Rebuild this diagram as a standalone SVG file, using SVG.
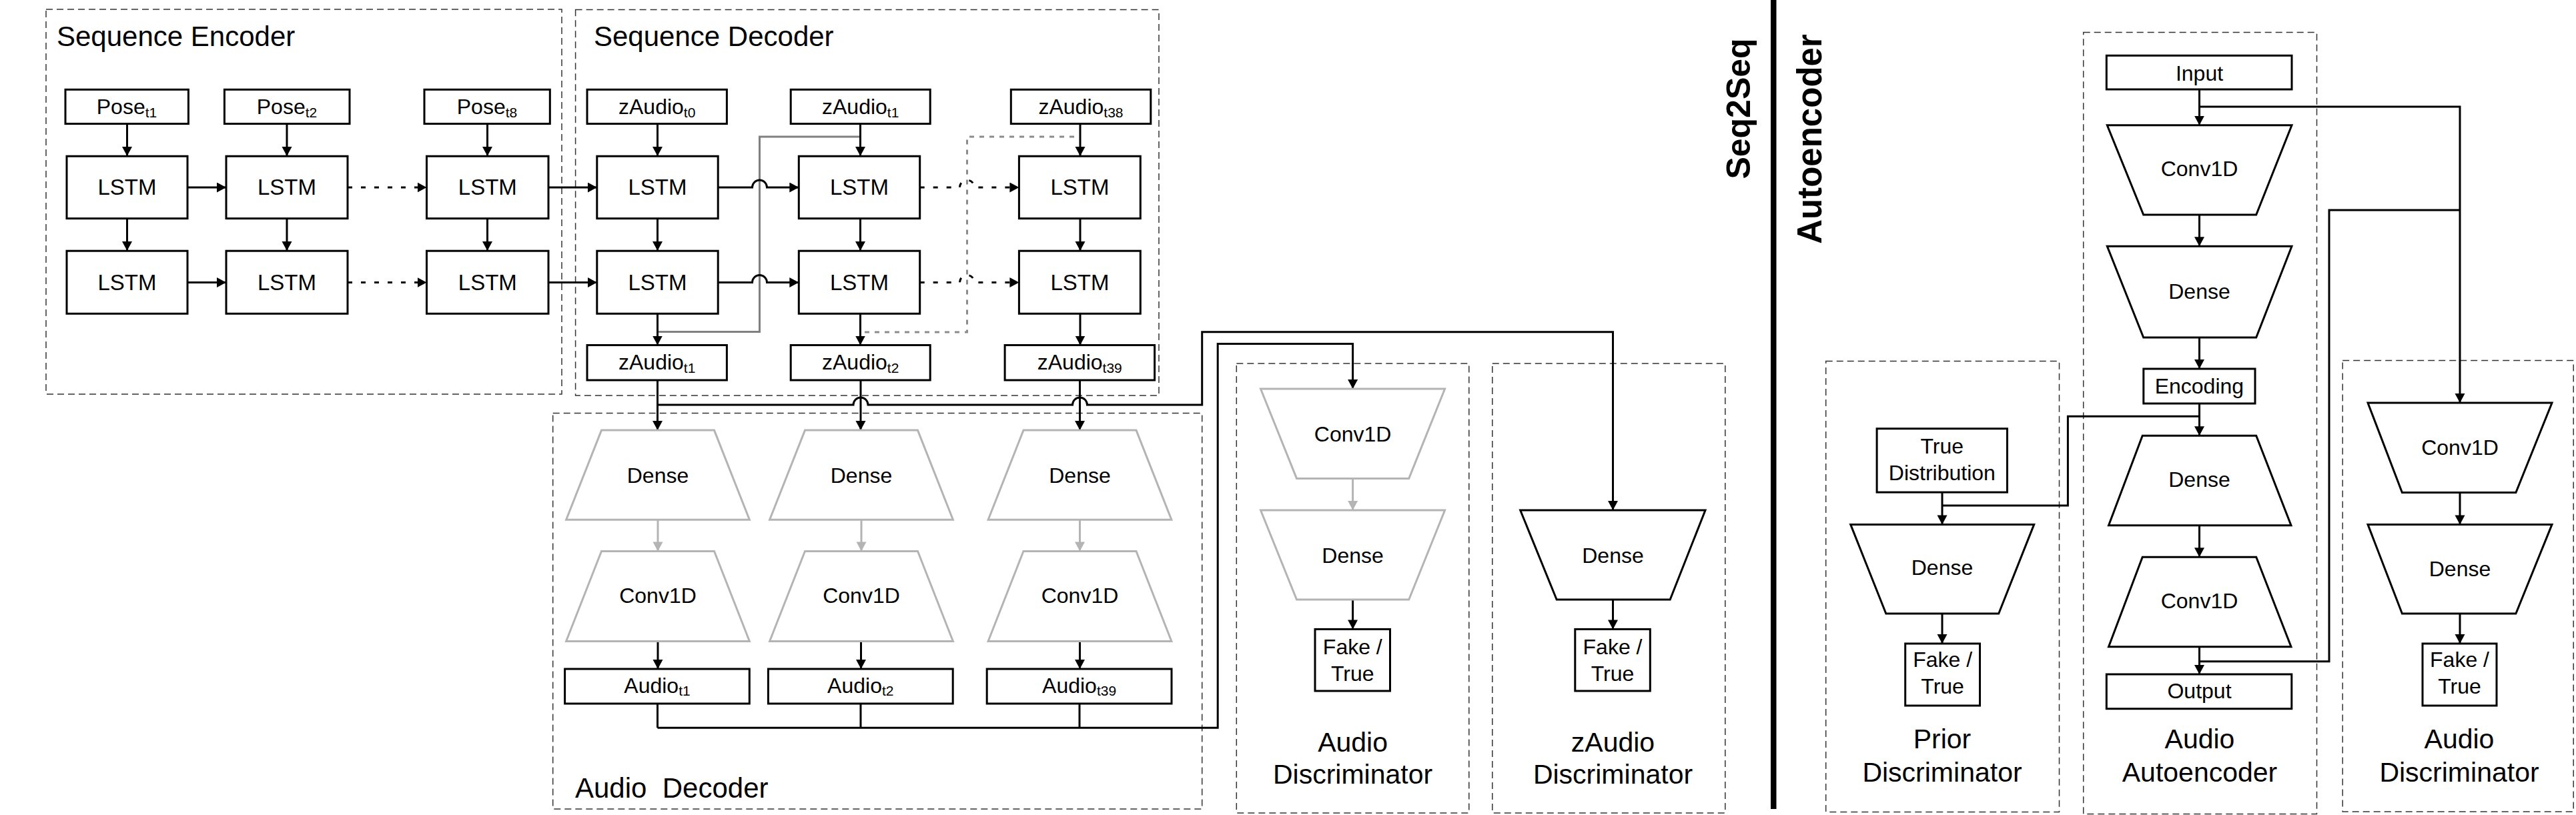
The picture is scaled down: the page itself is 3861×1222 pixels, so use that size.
<svg xmlns="http://www.w3.org/2000/svg" width="3861" height="1222" viewBox="0 0 3861 1222">
<defs>
<style>
.n{fill:#fff;stroke:#000;stroke-width:3}
.g{fill:#fff;stroke:#b4b4b4;stroke-width:3}
.grp{fill:none;stroke:#333;stroke-width:1.5;stroke-dasharray:10 6}
.c{fill:none;stroke:#000;stroke-width:3}
.cg{fill:none;stroke:#b4b4b4;stroke-width:3}
.fb{fill:none;stroke:#808080;stroke-width:3}
.dot{fill:none;stroke:#000;stroke-width:3;stroke-dasharray:7 13}
.gdot{fill:none;stroke:#8c8c8c;stroke-width:3;stroke-dasharray:7 8}
text{font-family:"Liberation Sans",Arial,sans-serif;fill:#000}
.t{font-size:32px;text-anchor:middle}
.l{font-size:33px;text-anchor:middle}
.lab{font-size:41px;text-anchor:middle}
.ttl{font-size:42px;white-space:pre}
.vb{font-size:50px;font-weight:bold;text-anchor:middle}
</style>
<marker id="a" markerUnits="userSpaceOnUse" markerWidth="15" markerHeight="16" refX="14" refY="7.5" orient="auto"><path d="M0,0 L14,7.5 L0,15 Z" fill="#000"/></marker>
<marker id="ag" markerUnits="userSpaceOnUse" markerWidth="15" markerHeight="16" refX="14" refY="7.5" orient="auto"><path d="M0,0 L14,7.5 L0,15 Z" fill="#b4b4b4"/></marker>
</defs>
<rect width="3861" height="1222" fill="#fff"/>

<!-- group containers -->
<g id="groups">
<rect class="grp" x="69" y="14" width="773" height="577"/>
<text class="ttl" x="85" y="69">Sequence Encoder</text>
<rect class="grp" x="862.6" y="14.5" width="874.4" height="578.5"/>
<text class="ttl" x="890" y="69">Sequence Decoder</text>
<rect class="grp" x="828.7" y="619.4" width="973" height="593.6"/>
<text class="ttl" x="862" y="1196">Audio  Decoder</text>
<rect class="grp" x="1853.3" y="545" width="348.5" height="674"/>
<text class="lab" x="2027.6" y="1127">Audio</text>
<text class="lab" x="2027.6" y="1175">Discriminator</text>
<rect class="grp" x="2236.8" y="545" width="349" height="674"/>
<text class="lab" x="2417.5" y="1127">zAudio</text>
<text class="lab" x="2417.5" y="1175">Discriminator</text>
<rect class="grp" x="2736.7" y="541.5" width="349.8" height="676"/>
<text class="lab" x="2911" y="1121.6">Prior</text>
<text class="lab" x="2911" y="1172.3">Discriminator</text>
<rect class="grp" x="3122.7" y="48.6" width="349.8" height="1172"/>
<text class="lab" x="3297" y="1121.6">Audio</text>
<text class="lab" x="3297" y="1172.3">Autoencoder</text>
<rect class="grp" x="3511.2" y="540.5" width="346" height="676.5"/>
<text class="lab" x="3686" y="1121.6">Audio</text>
<text class="lab" x="3686" y="1172.3">Discriminator</text>
</g>

<!-- section labels and separator -->
<g id="sections">
<rect x="2654" y="0" width="8.5" height="1213" fill="#000"/>
<text class="vb" transform="translate(2623,163) rotate(-90)">Seq2Seq</text>
<text class="vb" transform="translate(2730,208.5) rotate(-90)" style="font-size:51px">Autoencoder</text>
</g>

<!-- connectors -->
<g id="connectors">
<!-- encoder -->
<path class="c" d="M190.5,185.6 V234" marker-end="url(#a)"/>
<path class="c" d="M430,185.6 V234" marker-end="url(#a)"/>
<path class="c" d="M730.5,185.6 V234" marker-end="url(#a)"/>
<path class="c" d="M190.5,327.6 V376" marker-end="url(#a)"/>
<path class="c" d="M430,327.6 V376" marker-end="url(#a)"/>
<path class="c" d="M730.5,327.6 V376" marker-end="url(#a)"/>
<path class="c" d="M281,281 H339" marker-end="url(#a)"/>
<path class="c" d="M281,423.5 H339" marker-end="url(#a)"/>
<path class="dot" d="M521,281 H639.5" marker-end="url(#a)"/>
<path class="dot" d="M521,423.5 H639.5" marker-end="url(#a)"/>
<path class="c" d="M822,281 H894.8" marker-end="url(#a)"/>
<path class="c" d="M822,423.5 H894.8" marker-end="url(#a)"/>
<!-- decoder feedback -->
<path class="fb" d="M985.5,497.5 H1138.5 V205 H1289.5"/>
<path class="gdot" d="M1296,498 H1449.5 V205 H1619"/>
<!-- decoder arrows -->
<path class="c" d="M985.5,185.6 V234" marker-end="url(#a)"/>
<path class="c" d="M1289.5,185.6 V234" marker-end="url(#a)"/>
<path class="c" d="M1619,185.6 V234" marker-end="url(#a)"/>
<path class="c" d="M985.5,327.6 V376" marker-end="url(#a)"/>
<path class="c" d="M1289.5,327.6 V376" marker-end="url(#a)"/>
<path class="c" d="M1619,327.6 V376" marker-end="url(#a)"/>
<path class="c" d="M985.5,470.3 V517.5" marker-end="url(#a)"/>
<path class="c" d="M1289.5,470.3 V517.5" marker-end="url(#a)"/>
<path class="c" d="M1619,470.3 V517.5" marker-end="url(#a)"/>
<path class="c" d="M1076.2,281 H1127.5 a11,11 0 0 1 22,0 H1197.3" marker-end="url(#a)"/>
<path class="c" d="M1076.2,423.5 H1127.5 a11,11 0 0 1 22,0 H1197.3" marker-end="url(#a)"/>
<path class="dot" d="M1378.7,281 H1438.5 a11,11 0 0 1 22,0 H1527.4" marker-end="url(#a)"/>
<path class="dot" d="M1378.7,423.5 H1438.5 a11,11 0 0 1 22,0 H1527.4" marker-end="url(#a)"/>
<!-- zAudio to audio decoder -->
<path class="c" d="M985.5,570 V645" marker-end="url(#a)"/>
<path class="c" d="M1290,570 V645" marker-end="url(#a)"/>
<path class="c" d="M1618.5,570 V645" marker-end="url(#a)"/>
<path class="c" d="M985.5,607 H1279 a11,11 0 0 1 22,0 H1607.5 a11,11 0 0 1 22,0 H1801.7 V497.8 H2417.5 V765" marker-end="url(#a)"/>
<!-- audio decoder inner -->
<path class="cg" d="M986,779.3 V826.4" marker-end="url(#ag)"/>
<path class="cg" d="M1291,779.3 V826.4" marker-end="url(#ag)"/>
<path class="cg" d="M1618.5,779.3 V826.4" marker-end="url(#ag)"/>
<path class="c" d="M986,961.5 V1003" marker-end="url(#a)"/>
<path class="c" d="M1290.5,961.5 V1003" marker-end="url(#a)"/>
<path class="c" d="M1618.5,961.5 V1003" marker-end="url(#a)"/>
<path class="c" d="M985.5,1055 V1091.3 M1290,1055 V1091.3 M1618,1055 V1091.3"/>
<path class="c" d="M985.5,1091.3 H1825.2 V515.5 H2027.6 V583" marker-end="url(#a)"/>
<!-- audio discriminator -->
<path class="cg" d="M2027.6,717.4 V765" marker-end="url(#ag)"/>
<path class="c" d="M2027.6,899 V943.4" marker-end="url(#a)"/>
<!-- zAudio discriminator -->
<path class="c" d="M2417.5,899 V943.4" marker-end="url(#a)"/>
<!-- autoencoder -->
<path class="c" d="M3296.5,134 V187.7" marker-end="url(#a)"/>
<path class="c" d="M3296.5,322 V369.3" marker-end="url(#a)"/>
<path class="c" d="M3296.5,506 V553" marker-end="url(#a)"/>
<path class="c" d="M3296.5,605 V653.3" marker-end="url(#a)"/>
<path class="c" d="M3296.5,787.8 V835.2" marker-end="url(#a)"/>
<path class="c" d="M3296.5,969.7 V1011" marker-end="url(#a)"/>
<path class="c" d="M3296.5,160 H3687 V604" marker-end="url(#a)"/>
<path class="c" d="M3296.5,991.8 H3491 V315 H3687"/>
<path class="c" d="M3296.5,624.3 H3099.4 V757.9 H2911"/>
<!-- prior discriminator -->
<path class="c" d="M2911,738.1 V786.4" marker-end="url(#a)"/>
<path class="c" d="M2911,920 V965" marker-end="url(#a)"/>
<!-- right audio discriminator -->
<path class="c" d="M3687,738.5 V786.4" marker-end="url(#a)"/>
<path class="c" d="M3687,920 V965" marker-end="url(#a)"/>
</g>

<!-- Sequence encoder nodes -->
<g id="enc-pose1"><rect class="n" x="98" y="134.3" width="184.4" height="51.3"/><text class="t" x="190" y="171">Pose<tspan dy="4.5" font-size="21">t1</tspan></text></g>
<g id="enc-pose2"><rect class="n" x="336.4" y="134.3" width="187.6" height="51.3"/><text class="t" x="430" y="171">Pose<tspan dy="4.5" font-size="21">t2</tspan></text></g>
<g id="enc-pose8"><rect class="n" x="636" y="134.3" width="188.3" height="51.3"/><text class="t" x="730" y="171">Pose<tspan dy="4.5" font-size="21">t8</tspan></text></g>
<g id="enc-lstm11"><rect class="n" x="100" y="234.2" width="181" height="93.4"/><text class="l" x="190.5" y="292">LSTM</text></g>
<g id="enc-lstm12"><rect class="n" x="339" y="234.2" width="182" height="93.4"/><text class="l" x="430" y="292">LSTM</text></g>
<g id="enc-lstm13"><rect class="n" x="639.5" y="234.2" width="182.5" height="93.4"/><text class="l" x="730.8" y="292">LSTM</text></g>
<g id="enc-lstm21"><rect class="n" x="100" y="376.2" width="181" height="94.1"/><text class="l" x="190.5" y="434.5">LSTM</text></g>
<g id="enc-lstm22"><rect class="n" x="339" y="376.2" width="182" height="94.1"/><text class="l" x="430" y="434.5">LSTM</text></g>
<g id="enc-lstm23"><rect class="n" x="639.5" y="376.2" width="182.5" height="94.1"/><text class="l" x="730.8" y="434.5">LSTM</text></g>

<!-- Sequence decoder nodes -->
<g id="dec-in0"><rect class="n" x="880" y="134.3" width="209.4" height="51.3"/><text class="t" x="984.7" y="171">zAudio<tspan dy="4.5" font-size="21">t0</tspan></text></g>
<g id="dec-in1"><rect class="n" x="1185.2" y="134.3" width="209" height="51.3"/><text class="t" x="1289.7" y="171">zAudio<tspan dy="4.5" font-size="21">t1</tspan></text></g>
<g id="dec-in38"><rect class="n" x="1515.3" y="134.3" width="209.5" height="51.3"/><text class="t" x="1620" y="171">zAudio<tspan dy="4.5" font-size="21">t38</tspan></text></g>
<g id="dec-lstm11"><rect class="n" x="894.8" y="234.2" width="181.4" height="93.4"/><text class="l" x="985.5" y="292">LSTM</text></g>
<g id="dec-lstm12"><rect class="n" x="1197.3" y="234.2" width="181.4" height="93.4"/><text class="l" x="1288" y="292">LSTM</text></g>
<g id="dec-lstm13"><rect class="n" x="1527.4" y="234.2" width="181.9" height="93.4"/><text class="l" x="1618.4" y="292">LSTM</text></g>
<g id="dec-lstm21"><rect class="n" x="894.8" y="376.2" width="181.4" height="94.1"/><text class="l" x="985.5" y="434.5">LSTM</text></g>
<g id="dec-lstm22"><rect class="n" x="1197.3" y="376.2" width="181.4" height="94.1"/><text class="l" x="1288" y="434.5">LSTM</text></g>
<g id="dec-lstm23"><rect class="n" x="1527.4" y="376.2" width="181.9" height="94.1"/><text class="l" x="1618.4" y="434.5">LSTM</text></g>
<g id="dec-out1"><rect class="n" x="880" y="517.5" width="209.4" height="52.5"/><text class="t" x="984.7" y="554">zAudio<tspan dy="4.5" font-size="21">t1</tspan></text></g>
<g id="dec-out2"><rect class="n" x="1185.2" y="517.5" width="209" height="52.5"/><text class="t" x="1289.7" y="554">zAudio<tspan dy="4.5" font-size="21">t2</tspan></text></g>
<g id="dec-out39"><rect class="n" x="1506.1" y="517.5" width="224.5" height="52.5"/><text class="t" x="1618.3" y="554">zAudio<tspan dy="4.5" font-size="21">t39</tspan></text></g>

<!-- Audio decoder nodes -->
<g id="ad-dense1"><polygon class="g" points="901.5,645.1 1070.5,645.1 1123.4,779.3 848.6,779.3"/><text class="t" x="986" y="723.6">Dense</text></g>
<g id="ad-dense2"><polygon class="g" points="1206.5,645.1 1375.5,645.1 1428.4,779.3 1153.6,779.3"/><text class="t" x="1291" y="723.6">Dense</text></g>
<g id="ad-dense3"><polygon class="g" points="1534,645.1 1703,645.1 1755.9,779.3 1481.1,779.3"/><text class="t" x="1618.5" y="723.6">Dense</text></g>
<g id="ad-conv1"><polygon class="g" points="901.5,826.4 1070.5,826.4 1123.4,961.5 848.6,961.5"/><text class="t" x="986" y="903.6">Conv1D</text></g>
<g id="ad-conv2"><polygon class="g" points="1206.5,826.4 1375.5,826.4 1428.4,961.5 1153.6,961.5"/><text class="t" x="1291" y="903.6">Conv1D</text></g>
<g id="ad-conv3"><polygon class="g" points="1534,826.4 1703,826.4 1755.9,961.5 1481.1,961.5"/><text class="t" x="1618.5" y="903.6">Conv1D</text></g>
<g id="ad-audio1"><rect class="n" x="846.6" y="1003" width="276.7" height="52"/><text class="t" x="985" y="1038.6">Audio<tspan dy="4.5" font-size="21">t1</tspan></text></g>
<g id="ad-audio2"><rect class="n" x="1151.4" y="1003" width="276.8" height="52"/><text class="t" x="1289.8" y="1038.6">Audio<tspan dy="4.5" font-size="21">t2</tspan></text></g>
<g id="ad-audio39"><rect class="n" x="1479.2" y="1003" width="276.8" height="52"/><text class="t" x="1617.6" y="1038.6">Audio<tspan dy="4.5" font-size="21">t39</tspan></text></g>

<!-- Audio discriminator (seq2seq) -->
<g id="adisc-conv"><polygon class="g" points="1889.5,583 2165.6,583 2111.7,717.4 1943.5,717.4"/><text class="t" x="2027.6" y="661.7">Conv1D</text></g>
<g id="adisc-dense"><polygon class="g" points="1889.5,765 2165.6,765 2111.7,899 1943.5,899"/><text class="t" x="2027.6" y="844">Dense</text></g>
<g id="adisc-out"><rect class="n" x="1971" y="943.4" width="112.5" height="92.6"/><text class="t" x="2027.3" y="980.8">Fake /</text><text class="t" x="2027.3" y="1021">True</text></g>

<!-- zAudio discriminator -->
<g id="zdisc-dense"><polygon class="n" points="2278.7,765 2556,765 2503.2,899 2333.2,899"/><text class="t" x="2417.5" y="844">Dense</text></g>
<g id="zdisc-out"><rect class="n" x="2360.8" y="943.4" width="112.5" height="92.6"/><text class="t" x="2417" y="980.8">Fake /</text><text class="t" x="2417" y="1021">True</text></g>

<!-- Prior discriminator -->
<g id="prior-true"><rect class="n" x="2813.1" y="642.7" width="195.4" height="95.4"/><text class="t" x="2910.8" y="679.6">True</text><text class="t" x="2910.8" y="720.1">Distribution</text></g>
<g id="prior-dense"><polygon class="n" points="2773.7,786.4 3048.7,786.4 2995.7,920 2826.8,920"/><text class="t" x="2911" y="861.5">Dense</text></g>
<g id="prior-out"><rect class="n" x="2855.7" y="965" width="111.8" height="93"/><text class="t" x="2911.6" y="999.6">Fake /</text><text class="t" x="2911.6" y="1039.7">True</text></g>

<!-- Audio autoencoder -->
<g id="ae-input"><rect class="n" x="3157.3" y="83.3" width="277.7" height="50.7"/><text class="t" x="3296.5" y="120.7">Input</text></g>
<g id="ae-conv-enc"><polygon class="n" points="3158.3,187.7 3435,187.7 3381.7,322 3212.7,322"/><text class="t" x="3296.5" y="264.3">Conv1D</text></g>
<g id="ae-dense-enc"><polygon class="n" points="3158.3,369.3 3435,369.3 3381.7,506 3212.7,506"/><text class="t" x="3296.5" y="447.7">Dense</text></g>
<g id="ae-encoding"><rect class="n" x="3212.8" y="553" width="167.2" height="52"/><text class="t" x="3296.4" y="589.8">Encoding</text></g>
<g id="ae-dense-dec"><polygon class="n" points="3211.2,653.3 3381.7,653.3 3434,787.8 3160.5,787.8"/><text class="t" x="3296.5" y="730.2">Dense</text></g>
<g id="ae-conv-dec"><polygon class="n" points="3211.2,835.2 3381.7,835.2 3434,969.7 3160.5,969.7"/><text class="t" x="3296.5" y="912">Conv1D</text></g>
<g id="ae-output"><rect class="n" x="3157.3" y="1011" width="277.5" height="51.7"/><text class="t" x="3296.5" y="1047">Output</text></g>

<!-- Audio discriminator (autoencoder) -->
<g id="rdisc-conv"><polygon class="n" points="3549,604 3825,604 3770.9,738.5 3600.4,738.5"/><text class="t" x="3687" y="681.9">Conv1D</text></g>
<g id="rdisc-dense"><polygon class="n" points="3549,786.4 3825,786.4 3770.9,920 3600.4,920"/><text class="t" x="3687" y="863.8">Dense</text></g>
<g id="rdisc-out"><rect class="n" x="3631" y="965" width="111" height="93"/><text class="t" x="3686.5" y="999.6">Fake /</text><text class="t" x="3686.5" y="1039.7">True</text></g>
</svg>
